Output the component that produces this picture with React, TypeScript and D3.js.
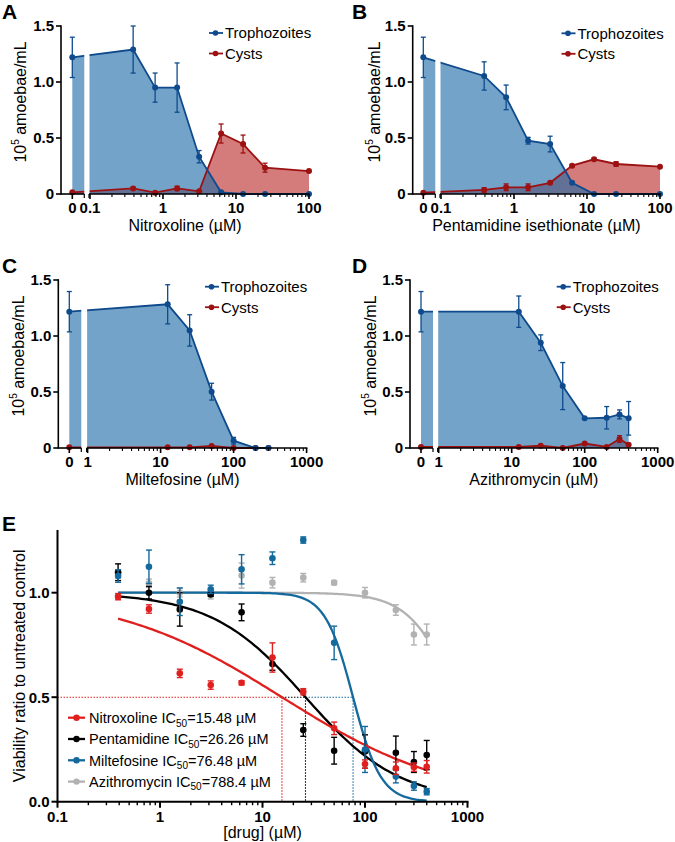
import React from "react";
import * as d3 from "d3";

const FONT = "'Liberation Sans', Arial, Helvetica, sans-serif";

// ---------- Panel A: Nitroxoline ----------
const concA = [0, 0.39, 0.78, 1.56, 3.125, 6.25, 12.5, 25, 100];
const trophA = [1.22, 1.29, 0.95, 0.95, 0.333, 0.015, 0, 0, 0];
const trophAErr = [0.18, 0.21, 0.13, 0.22, 0.055, 0, 0, 0, 0];
const cystA = [0.015, 0.05, 0.012, 0.05, 0.024, 0.54, 0.446, 0.235, 0.205];
const cystAErr = [0, 0.01, 0, 0.02, 0, 0.085, 0.08, 0.04, 0];

// ---------- Panel B: Pentamidine isethionate ----------
const concB = [0, 0.39, 0.78, 1.56, 3.125, 6.25, 12.5, 25, 100];
const trophB = [1.22, 1.054, 0.863, 0.476, 0.446, 0.1, 0, 0, 0];
const trophBErr = [0.18, 0.126, 0.11, 0.03, 0.07, 0, 0, 0, 0];
const cystB = [0.012, 0.036, 0.06, 0.06, 0.1, 0.253, 0.31, 0.268, 0.244];
const cystBErr = [0, 0.02, 0.03, 0.03, 0, 0.01, 0.01, 0.02, 0];

// ---------- Panel C: Miltefosine ----------
const concC = [0, 12.5, 25, 50, 100, 200, 300];
const trophC = [1.217, 1.283, 1.05, 0.503, 0.065, 0, 0];
const trophCErr = [0.18, 0.175, 0.14, 0.075, 0.03, 0, 0];
const cystC = [0.006, 0.006, 0.006, 0.018, 0, 0, 0];
const cystCErr = [0, 0, 0, 0, 0, 0, 0];

// ---------- Panel D: Azithromycin ----------
const concD = [0, 12.5, 25, 50, 100, 200, 300, 400];
const trophD = [1.217, 1.217, 0.94, 0.553, 0.265, 0.27, 0.3, 0.265];
const trophDErr = [0.18, 0.14, 0.07, 0.21, 0, 0.1, 0.04, 0.15];
const cystD = [0.01, 0.01, 0.02, 0.0, 0.04, 0.01, 0.08, 0.03];
const cystDErr = [0, 0, 0, 0, 0, 0, 0.03, 0];

// ---------- Panel E: viability ----------
const concE = [0.39, 0.78, 1.56, 3.125, 6.25, 12.5, 25, 50, 100, 200, 300, 400];
const nitroE = [0.981, 0.922, 0.614, 0.558, 0.569, 0.69, 0.526, 0.351, 0.18, 0.16, 0.165, 0.167];
const nitroEErr = [0.015, 0.02, 0.02, 0.02, 0.01, 0.07, 0.015, 0.03, 0.02, 0.03, 0.02, 0.03];
const pentaE = [1.098, 1.0, 0.92, 0.992, 0.906, 0.659, 0.343, 0.244, 0.24, 0.234, 0.19, 0.223];
const pentaEErr = [0.04, 0.03, 0.08, 0.01, 0.04, 0.03, 0.03, 0.064, 0.08, 0.08, 0.05, 0.07];
const milteE = [1.08, 1.124, 0.957, 1.016, 1.112, 1.165, 1.252, 0.76, 0.25, 0.12, 0.075, 0.048];
const milteEErr = [0.03, 0.08, 0.066, 0.02, 0.07, 0.03, 0.015, 0.08, 0.11, 0.03, 0.02, 0.015];
const aziE = [1.09, 1.045, 1.0, 0.99, 1.082, 1.048, 1.072, 1.048, 1.0, 0.917, 0.8, 0.8];
const aziEErr = [0.02, 0.02, 0.02, 0.02, 0.06, 0.025, 0.02, 0.01, 0.025, 0.025, 0.05, 0.05];

const drugNames = ["Nitroxoline", "Pentamidine", "Miltefosine", "Azithromycin"];
const ic50Labels = ["15.48", "26.26", "76.48", "788.4"];
const ic50Values = [15.48, 26.26, 76.48, 788.4];
const hillSlopes = [0.53, 0.95, 3.2, 1.9];
const drugColors = ["#e0201f", "#000000", "#14699d", "#b2b2b2"];

const TROPH_LINE = "#0e4a8c";
const CYST_LINE = "#9c1111";
const TROPH_FILL = "#1f6aa8";
const CYST_FILL = "#d47b7b";

type PanelProps = {
  letter: string;
  letterX: number;
  letterY: number;
  axisX: number;
  zeroX: number;
  gapR: number;
  logMin: number;
  logMax: number;
  logMaxPx: number;
  yBottom: number;
  yTop: number;
  conc: number[];
  troph: number[];
  trophErr: number[];
  cyst: number[];
  cystErr: number[];
  xTitle: string;
  legendX: number;
  legendY: number;
  yTitleX: number;
};

function Panel(p: PanelProps) {
  const logScale = d3.scaleLog().domain([p.logMin, p.logMax]).range([p.gapR, p.logMaxPx]);
  const xs = (c: number) => (c === 0 ? p.zeroX : logScale(c));
  const ys = d3.scaleLinear().domain([0, 1.5]).range([p.yBottom, p.yTop]);
  const idx = p.conc.map((_, i) => i);
  const area = (vals: number[]) =>
    d3
      .area<number>()
      .x((i) => xs(p.conc[i]))
      .y0(ys(0))
      .y1((i) => ys(vals[i]))(idx) || "";
  const line = (vals: number[]) =>
    d3
      .line<number>()
      .x((i) => xs(p.conc[i]))
      .y((i) => ys(vals[i]))(idx) || "";
  const gapL = p.zeroX + 12;
  const majors: number[] = [];
  for (let v = p.logMin; v <= p.logMax * 1.0001; v *= 10) majors.push(v);
  const minors: number[] = [];
  majors.forEach((m) => {
    for (let k = 2; k <= 9; k++) if (m * k < p.logMax) minors.push(m * k);
  });
  const fmt = (v: number) => (v < 1 ? v.toFixed(1) : String(Math.round(v)));
  const yTicks = [0, 0.5, 1.0, 1.5];
  const series = [
    { vals: p.cyst, err: p.cystErr, color: CYST_LINE },
    { vals: p.troph, err: p.trophErr, color: TROPH_LINE },
  ];
  return (
    <g fontFamily={FONT}>
      <text x={p.letterX} y={p.letterY} fontSize={21} fontWeight="bold">
        {p.letter}
      </text>
      <path d={area(p.cyst)} fill={CYST_FILL} />
      <path d={area(p.troph)} fill={TROPH_FILL} fillOpacity={0.62} />
      <path d={line(p.cyst)} fill="none" stroke={CYST_LINE} strokeWidth={1.8} />
      <path d={line(p.troph)} fill="none" stroke={TROPH_LINE} strokeWidth={1.8} />
      <rect x={gapL} y={p.yTop - 10} width={p.gapR - gapL - 0.5} height={p.yBottom - p.yTop + 12} fill="white" />
      {series.map((s, si) => (
        <g key={si}>
          {idx.map((i) => {
            const x = xs(p.conc[i]);
            const e = s.err[i];
            return (
              <g key={i}>
                {e > 0 && (
                  <g stroke={s.color} strokeWidth={1.3}>
                    <line x1={x} x2={x} y1={ys(s.vals[i] - e)} y2={ys(s.vals[i] + e)} />
                    <line x1={x - 2.5} x2={x + 2.5} y1={ys(s.vals[i] + e)} y2={ys(s.vals[i] + e)} />
                    <line x1={x - 2.5} x2={x + 2.5} y1={ys(s.vals[i] - e)} y2={ys(s.vals[i] - e)} />
                  </g>
                )}
                <circle cx={x} cy={ys(s.vals[i])} r={3} fill={s.color} />
              </g>
            );
          })}
        </g>
      ))}
      {/* axes */}
      <g stroke="black" strokeWidth={1.6} fill="none">
        <line x1={p.axisX} x2={p.axisX} y1={ys(1.5) - 0.8} y2={ys(0) + 0.8} />
        <line x1={p.axisX} x2={gapL} y1={ys(0)} y2={ys(0)} />
        <line x1={p.gapR - 1} x2={p.logMaxPx + 0.8} y1={ys(0)} y2={ys(0)} />
        <line x1={gapL} x2={gapL} y1={ys(0)} y2={ys(0) + 4} strokeWidth={1.2} />
        <line x1={p.gapR - 1} x2={p.gapR - 1} y1={ys(0)} y2={ys(0) + 4} strokeWidth={1.2} />
        {yTicks.map((t) => (
          <line key={t} x1={p.axisX - 5} x2={p.axisX} y1={ys(t)} y2={ys(t)} />
        ))}
        <line x1={p.zeroX} x2={p.zeroX} y1={ys(0)} y2={ys(0) + 5} />
        {majors.map((t) => (
          <line key={"M" + t} x1={logScale(t)} x2={logScale(t)} y1={ys(0)} y2={ys(0) + 5} />
        ))}
        {minors.map((t) => (
          <line key={"m" + t} x1={logScale(t)} x2={logScale(t)} y1={ys(0)} y2={ys(0) + 3} strokeWidth={1.1} />
        ))}
      </g>
      {yTicks.map((t) => (
        <text key={t} x={p.axisX - 7} y={ys(t) + 5} fontSize={15} fontWeight="bold" textAnchor="end">
          {t === 0 ? "0" : t.toFixed(1)}
        </text>
      ))}
      <text x={p.zeroX} y={ys(0) + 19} fontSize={15} fontWeight="bold" textAnchor="middle">
        0
      </text>
      {majors.map((t) => (
        <text key={t} x={logScale(t)} y={ys(0) + 19} fontSize={15} fontWeight="bold" textAnchor="middle">
          {fmt(t)}
        </text>
      ))}
      <text x={(p.axisX + p.logMaxPx) / 2} y={ys(0) + 37} fontSize={16} textAnchor="middle">
        {p.xTitle}
      </text>
      <text
        transform={`translate(${p.yTitleX},${(ys(0) + ys(1.5)) / 2 - 8}) rotate(-90)`}
        fontSize={16}
        textAnchor="middle"
      >
        10
        <tspan fontSize={10} dy={-7}>
          5
        </tspan>
        <tspan dy={7}> amoebae/mL</tspan>
      </text>
      {/* legend */}
      {["Trophozoites", "Cysts"].map((lab, i) => {
        const c = i === 0 ? TROPH_LINE : CYST_LINE;
        const y = p.legendY + i * 20.5;
        return (
          <g key={lab}>
            <line x1={p.legendX} x2={p.legendX + 14} y1={y} y2={y} stroke={c} strokeWidth={1.8} />
            <circle cx={p.legendX + 6.5} cy={y} r={2.8} fill={c} />
            <text x={p.legendX + 16} y={y + 5.3} fontSize={15}>
              {lab}
            </text>
          </g>
        );
      })}
    </g>
  );
}

function PanelE() {
  const xE = d3.scaleLog().domain([0.1, 1000]).range([57.5, 467.5]);
  const yE = d3.scaleLinear().domain([0, 1.3]).range([801.7, 530]);
  const dataSets = [
    { vals: nitroE, err: nitroEErr },
    { vals: pentaE, err: pentaEErr },
    { vals: milteE, err: milteEErr },
    { vals: aziE, err: aziEErr },
  ];
  const curveX = d3.range(0, 121).map((k) => Math.pow(10, Math.log10(0.39) + (k / 120) * (Math.log10(400) - Math.log10(0.39))));
  const hill = (x: number, i: number) => 1 / (1 + Math.pow(x / ic50Values[i], hillSlopes[i]));
  const majors = [0.1, 1, 10, 100, 1000];
  const minors: number[] = [];
  majors.slice(0, 4).forEach((m) => {
    for (let k = 2; k <= 9; k++) minors.push(m * k);
  });
  const yTicks = [0, 0.5, 1.0];
  const drawOrder = [3, 1, 2, 0];
  const guideStart = [0.1, ic50Values[0], ic50Values[1]];
  return (
    <g fontFamily={FONT}>
      <text x={2} y={531} fontSize={21} fontWeight="bold">
        E
      </text>
      {/* IC50 dotted guides */}
      {[0, 1, 2].map((i) => (
        <g key={i} stroke={drugColors[i]} strokeWidth={1.1} strokeDasharray="1.5,1.5" fill="none">
          <line x1={xE(guideStart[i])} x2={xE(ic50Values[i])} y1={yE(0.5)} y2={yE(0.5)} />
          <line x1={xE(ic50Values[i])} x2={xE(ic50Values[i])} y1={yE(0.5)} y2={yE(0)} />
        </g>
      ))}
      {/* fitted curves */}
      {drawOrder.map((i) => (
        <path
          key={"c" + i}
          d={d3.line<number>().x((x) => xE(x)).y((x) => yE(hill(x, i)))(curveX) || ""}
          fill="none"
          stroke={drugColors[i]}
          strokeWidth={2.3}
        />
      ))}
      {/* points */}
      {drawOrder.map((i) => (
        <g key={"p" + i} stroke={drugColors[i]} fill={drugColors[i]}>
          {concE.map((c, j) => {
            const v = dataSets[i].vals[j];
            const e = dataSets[i].err[j];
            const x = xE(c);
            return (
              <g key={j}>
                <line x1={x} x2={x} y1={yE(v - e)} y2={yE(v + e)} strokeWidth={1.4} />
                <line x1={x - 3} x2={x + 3} y1={yE(v + e)} y2={yE(v + e)} strokeWidth={1.4} />
                <line x1={x - 3} x2={x + 3} y1={yE(v - e)} y2={yE(v - e)} strokeWidth={1.4} />
                <circle cx={x} cy={yE(v)} r={3.3} stroke="none" />
              </g>
            );
          })}
        </g>
      ))}
      {/* axes */}
      <g stroke="black" strokeWidth={2} fill="none">
        <line x1={xE(0.1)} x2={xE(0.1)} y1={yE(1.3)} y2={yE(0) + 1} />
        <line x1={xE(0.1) - 1} x2={xE(1000) + 1} y1={yE(0)} y2={yE(0)} />
        {yTicks.map((t) => (
          <line key={t} x1={xE(0.1) - 6} x2={xE(0.1)} y1={yE(t)} y2={yE(t)} />
        ))}
        {majors.map((t) => (
          <line key={"M" + t} x1={xE(t)} x2={xE(t)} y1={yE(0)} y2={yE(0) + 6} />
        ))}
        {minors.map((t) => (
          <line key={"m" + t} x1={xE(t)} x2={xE(t)} y1={yE(0)} y2={yE(0) + 3.5} strokeWidth={1.4} />
        ))}
      </g>
      {yTicks.map((t) => (
        <text key={t} x={xE(0.1) - 8} y={yE(t) + 5.5} fontSize={15} fontWeight="bold" textAnchor="end">
          {t.toFixed(1)}
        </text>
      ))}
      {majors.map((t) => (
        <text key={t} x={xE(t)} y={yE(0) + 20} fontSize={15} fontWeight="bold" textAnchor="middle">
          {t < 1 ? t.toFixed(1) : String(t)}
        </text>
      ))}
      <text x={xE(10)} y={yE(0) + 36} fontSize={16} textAnchor="middle">
        [drug] (µM)
      </text>
      <text transform={`translate(25,${(yE(0) + yE(1.3)) / 2}) rotate(-90)`} fontSize={16} textAnchor="middle">
        Viability ratio to untreated control
      </text>
      {/* legend */}
      {drugNames.map((name, i) => {
        const y = 717.7 + i * 21.3;
        return (
          <g key={name}>
            <line x1={68} x2={85} y1={y} y2={y} stroke={drugColors[i]} strokeWidth={2.3} />
            <circle cx={76.5} cy={y} r={3.2} fill={drugColors[i]} />
            <text x={89} y={y + 5.3} fontSize={14.5}>
              {name} IC
              <tspan fontSize={10} dy={3.5}>
                50
              </tspan>
              <tspan dy={-3.5}>={ic50Labels[i]} µM</tspan>
            </text>
          </g>
        );
      })}
    </g>
  );
}

export default function App() {
  return (
    <svg
      width={675}
      height={842}
      viewBox="0 0 675 842"
      style={{ position: "absolute", left: 0, top: 0, background: "white" }}
    >
      <rect width={675} height={842} fill="white" />
      <Panel
        letter="A" letterX={2} letterY={19}
        axisX={61} zeroX={72.3} gapR={90} logMin={0.1} logMax={100} logMaxPx={309}
        yBottom={194} yTop={26}
        conc={concA} troph={trophA} trophErr={trophAErr} cyst={cystA} cystErr={cystAErr}
        xTitle="Nitroxoline (µM)" legendX={209} legendY={33} yTitleX={26}
      />
      <Panel
        letter="B" letterX={352} letterY={19}
        axisX={412.7} zeroX={423.3} gapR={441} logMin={0.1} logMax={100} logMaxPx={660}
        yBottom={194} yTop={26}
        conc={concB} troph={trophB} trophErr={trophBErr} cyst={cystB} cystErr={cystBErr}
        xTitle="Pentamidine isethionate (µM)" legendX={561.5} legendY={33.3} yTitleX={380}
      />
      <Panel
        letter="C" letterX={2} letterY={273}
        axisX={58.3} zeroX={69.3} gapR={87.6} logMin={1} logMax={1000} logMaxPx={306.6}
        yBottom={448} yTop={280}
        conc={concC} troph={trophC} trophErr={trophCErr} cyst={cystC} cystErr={cystCErr}
        xTitle="Miltefosine (µM)" legendX={205} legendY={286.7} yTitleX={24}
      />
      <Panel
        letter="D" letterX={352} letterY={273}
        axisX={410} zeroX={421} gapR={438.7} logMin={1} logMax={1000} logMaxPx={657.7}
        yBottom={448} yTop={280}
        conc={concD} troph={trophD} trophErr={trophDErr} cyst={cystD} cystErr={cystDErr}
        xTitle="Azithromycin (µM)" legendX={556.7} legendY={286.7} yTitleX={376}
      />
      <PanelE />
    </svg>
  );
}
